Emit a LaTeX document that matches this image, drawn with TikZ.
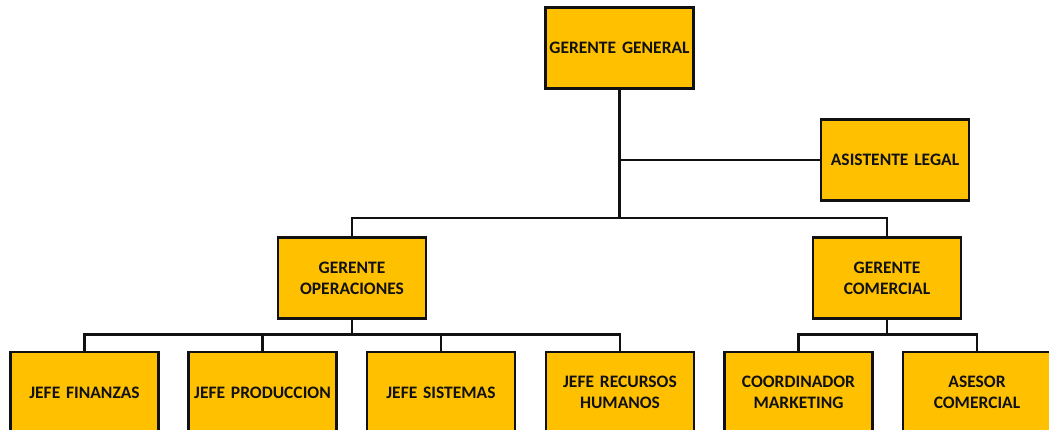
\documentclass[tikz,border=0pt]{standalone}
\usepackage{fontspec}
\setmainfont{Carlito}
\definecolor{boxfill}{HTML}{FFC000}
\definecolor{ink}{HTML}{111111}
\begin{document}
\begin{tikzpicture}[x=1pt,y=-1pt,
  post/.style={draw=ink, fill=boxfill, line width=2.8pt, rectangle,
    minimum width=148pt, minimum height=81pt, inner sep=0pt,
    text width=144pt, align=center, text=ink,
    font=\fontsize{17.5}{21}\selectfont\bfseries},
  link/.style={draw=ink, line width=2.8pt}]
  \clip (0,0) rectangle (1049,429);
  \fill[white] (0,0) rectangle (1049,429);

  % bus levels
  \coordinate (bus1) at (0,218);
  \coordinate (bus2) at (0,334.5);

  % posts
  \node[post] (gg) at (619.5,48)  {GERENTE GENERAL};
  \node[post] (al) at (895,160)   {ASISTENTE LEGAL};
  \node[post] (go) at (352,278)   {GERENTE\\OPERACIONES};
  \node[post] (gc) at (887,278)   {GERENTE\\COMERCIAL};
  \node[post] (jf) at (84.5,392.5)  {JEFE FINANZAS};
  \node[post] (jp) at (262.5,392.5) {JEFE PRODUCCION};
  \node[post] (js) at (441,392.5)   {JEFE SISTEMAS};
  \node[post] (jr) at (620,392.5)   {JEFE RECURSOS\\HUMANOS};
  \node[post] (cm) at (798.5,392.5) {COORDINADOR\\MARKETING};
  \node[post] (ac) at (977,392.5)   {ASESOR\\COMERCIAL};

  % top level
  \draw[link] (gg.south) -- (gg.south |- bus1);
  \draw[link] (gg.south |- al.west) -- (al.west);
  \draw[link] (go.north) -- (go.north |- bus1) -- (gc.north |- bus1) -- (gc.north);

  % operations branch
  \draw[link] (go.south) -- (go.south |- bus2);
  \draw[link] (jf.north) -- (jf.north |- bus2) -- (jr.north |- bus2) -- (jr.north);
  \draw[link] (jp.north) -- (jp.north |- bus2);
  \draw[link] (js.north) -- (js.north |- bus2);

  % commercial branch
  \draw[link] (gc.south) -- (gc.south |- bus2);
  \draw[link] (cm.north) -- (cm.north |- bus2) -- (ac.north |- bus2) -- (ac.north);
\end{tikzpicture}
\end{document}
